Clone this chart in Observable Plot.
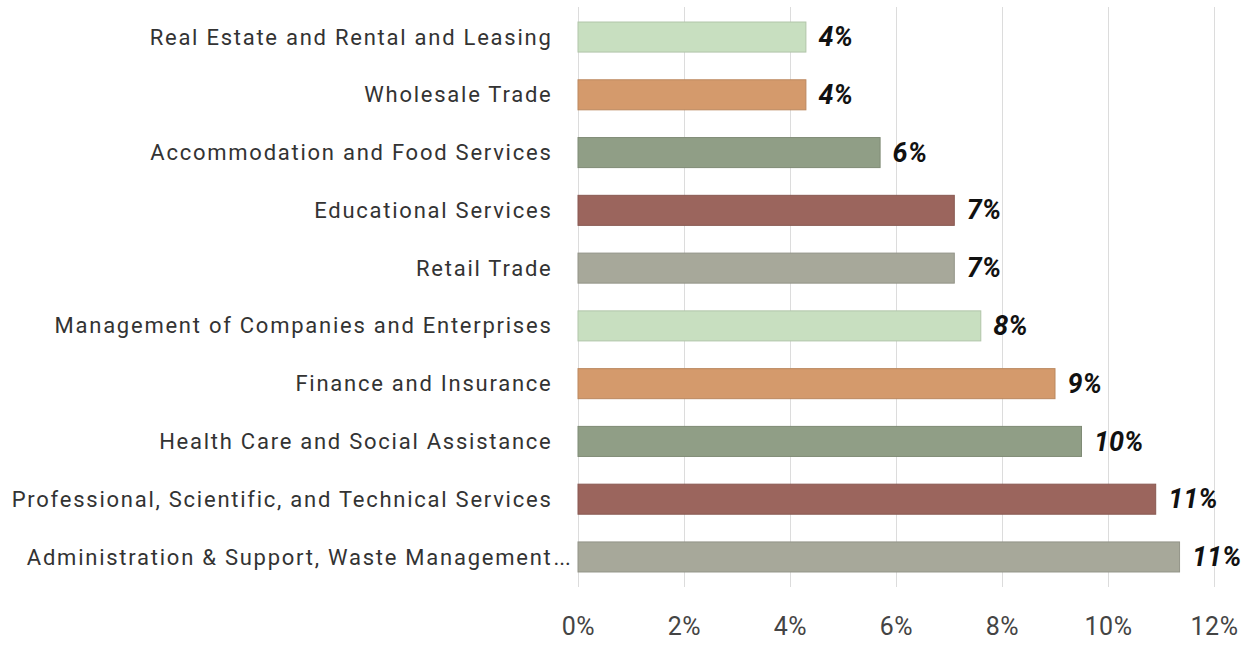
<!DOCTYPE html>
<html>
<head>
<meta charset="utf-8">
<script src="https://cdn.jsdelivr.net/npm/d3@7"></script>
<script src="https://cdn.jsdelivr.net/npm/@observablehq/plot@0.6"></script>
<style>
  html, body { margin: 0; padding: 0; background: #fff; }
  #chart { width: 1258px; height: 646px; }
  #chart g[aria-label="y-axis tick label"] { letter-spacing: 1.75px; }
  #chart g[aria-label="x-axis tick label"] { letter-spacing: 0.6px; }
</style>
</head>
<body>
<div id="chart"></div>
<script>
const categories = [
  "Real Estate and Rental and Leasing",
  "Wholesale Trade",
  "Accommodation and Food Services",
  "Educational Services",
  "Retail Trade",
  "Management of Companies and Enterprises",
  "Finance and Insurance",
  "Health Care and Social Assistance",
  "Professional, Scientific, and Technical Services",
  "Administration & Support, Waste Management..."
];
const values = [4.3, 4.3, 5.7, 7.1, 7.1, 7.6, 9.0, 9.5, 10.9, 11.35];
const valueLabels = ["4%", "4%", "6%", "7%", "7%", "8%", "9%", "10%", "11%", "11%"];
const barColors = ["#c8dfc0", "#d49a6c", "#909e86", "#9b655d", "#a7a89a"];
const xTicks = [0, 2, 4, 6, 8, 10, 12];

const rows = categories.map((c, i) => ({
  category: c,
  value: values[i],
  label: valueLabels[i],
  color: barColors[i % barColors.length],
  stroke: d3.color(barColors[i % barColors.length]).darker(0.35).formatHex()
}));

// labels ending with an ellipsis: the ellipsis hangs past the right-aligned text
const ellipsisRows = categories.filter(c => c.endsWith("...")).map(c => ({ category: c }));
const axisLabel = c => c.endsWith("...") ? c.slice(0, -3) : c;

const chart = Plot.plot({
  width: 1258,
  height: 646,
  marginLeft: 578,
  marginRight: 44,
  marginTop: 7,
  marginBottom: 59,
  style: { fontFamily: "Roboto, sans-serif", background: "#fff", color: "#333" },
  x: { domain: [0, 12], ticks: xTicks, tickFormat: d => d + "%", label: null, grid: false },
  y: { domain: categories, label: null, paddingInner: 0.48, paddingOuter: 0.26, round: false },
  color: { type: "identity" },
  marks: [
    Plot.gridX(xTicks, { stroke: "#dcdcdc", strokeOpacity: 1, strokeWidth: 1 }),
    Plot.barX(rows, { x: "value", y: "category", fill: "color", stroke: "stroke", strokeWidth: 1 }),
    Plot.text(rows, { x: "value", y: "category", text: "label", dx: 12, textAnchor: "start",
      fontSize: 27, fontWeight: "bold", fontStyle: "italic", fill: "#111" }),
    Plot.axisX({ ticks: xTicks, tickFormat: d => d + "%", tickSize: 0, tickPadding: 30, fontSize: 25, fill: "#444", label: null }),
    Plot.axisY({ tickSize: 0, tickPadding: 26, fontSize: 22, fill: "#333", label: null, tickFormat: axisLabel }),
    Plot.text(ellipsisRows, { y: "category", text: () => "...", frameAnchor: "left", dx: -25,
      textAnchor: "start", fontSize: 22, fill: "#333" })
  ]
});
document.getElementById("chart").appendChild(chart);
</script>
</body>
</html>
